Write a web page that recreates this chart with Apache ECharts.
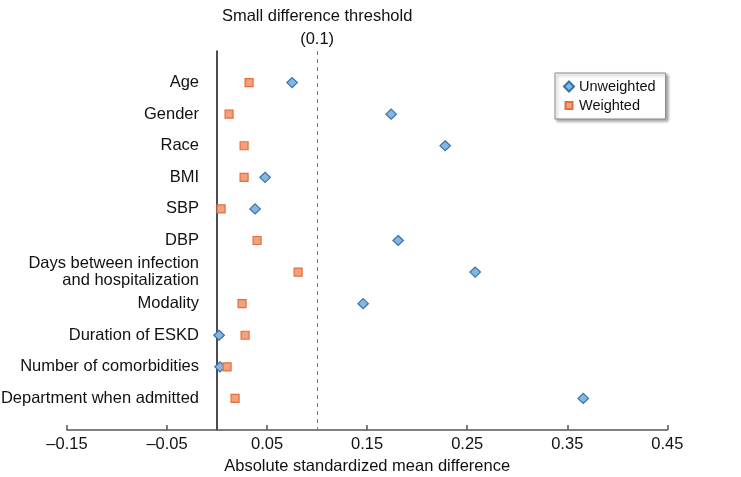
<!DOCTYPE html>
<html>
<head>
<meta charset="utf-8">
<script src="https://cdn.jsdelivr.net/npm/echarts@6/dist/echarts.min.js"></script>
<style>
html,body{margin:0;padding:0;background:#fff;}
#chart{width:741px;height:477px;}
</style>
</head>
<body>
<div id="chart"></div>
<script>
const categories = ['Age','Gender','Race','BMI','SBP','DBP','Days between infection\nand hospitalization','Modality','Duration of ESKD','Number of comorbidities','Department when admitted'];
const unweighted = [0.075, 0.174, 0.228, 0.048, 0.038, 0.181, 0.258, 0.146, 0.002, 0.003, 0.366];
const weighted = [0.032, 0.012, 0.027, 0.027, 0.004, 0.040, 0.081, 0.025, 0.028, 0.010, 0.018];
const xTicks = {min: -0.15, max: 0.45, interval: 0.1};
const threshold = 0.1;

const FONT = 'Liberation Sans, Arial, sans-serif';
const chart = echarts.init(document.getElementById('chart'));
const toPts = arr => arr.map((v, i) => [v, i + 1]);

chart.setOption({
  animation: false,
  backgroundColor: '#fff',
  textStyle: {fontFamily: FONT},
  grid: {left: 67, right: 73.7, top: 51, bottom: 47, containLabel: false, outerBoundsMode: 'none'},
  legend: {
    orient: 'vertical', left: 555, top: 73,
    padding: [6, 10, 6, 8], itemGap: 4,
    itemWidth: 10, itemHeight: 10,
    backgroundColor: '#fff', borderColor: '#8a8a8a', borderWidth: 1,
    shadowColor: 'rgba(0,0,0,0.35)', shadowBlur: 3, shadowOffsetX: 2, shadowOffsetY: 2,
    textStyle: {fontFamily: FONT, fontSize: 14.5, color: '#111'},
    data: [
      {name: 'Unweighted', icon: 'diamond'},
      {name: 'Weighted', icon: 'path://M0,0M10,10M1.5,1.5h7v7h-7z'}
    ]
  },
  xAxis: {
    type: 'value', min: xTicks.min, max: xTicks.max, interval: xTicks.interval,
    name: 'Absolute standardized mean difference', nameLocation: 'middle', nameGap: 28,
    nameTextStyle: {fontFamily: FONT, fontSize: 16.5, color: '#111'},
    axisLine: {onZero: false, lineStyle: {color: '#555', width: 1.5}},
    axisTick: {show: true, inside: true, length: 5, lineStyle: {color: '#555', width: 1.5}},
    axisLabel: {margin: 6, fontFamily: FONT, fontSize: 16.5, color: '#111',
      formatter: v => { const r = Math.round(v * 100) / 100; return (r < 0 ? '\u2013' : '') + Math.abs(r).toFixed(2); }},
    splitLine: {show: false}
  },
  yAxis: {
    type: 'value', inverse: true, min: 0, max: 12, interval: 1,
    axisLine: {show: true, onZero: true, lineStyle: {color: '#111', width: 1.5}},
    axisTick: {show: false},
    splitLine: {show: false},
    axisLabel: {margin: -132, fontFamily: FONT, fontSize: 16.5, color: '#111', lineHeight: 17.5, align: 'right',
      formatter: v => (v >= 1 && v <= categories.length) ? categories[v - 1] : ''}
  },
  series: [
    {
      name: 'Unweighted', type: 'scatter', symbol: 'diamond', symbolSize: [10.5, 10],
      itemStyle: {color: '#86b6e0', borderColor: '#3672aa', borderWidth: 1.2, opacity: 1},
      data: toPts(unweighted), z: 3,
      markLine: {
        silent: true, symbol: 'none',
        lineStyle: {type: [4, 4], color: '#777', width: 1},
        label: {show: true, position: 'start', distance: 0, formatter: 'Small difference threshold\n(0.1)',
          fontFamily: FONT, fontSize: 16.5, color: '#111', lineHeight: 23, align: 'center'},
        data: [{xAxis: threshold}]
      }
    },
    {
      name: 'Weighted', type: 'scatter', symbol: 'rect', symbolSize: 8,
      itemStyle: {color: '#f4a07d', borderColor: '#e26f3d', borderWidth: 1.2, opacity: 1},
      data: toPts(weighted), z: 4
    }
  ]
});
</script>
</body>
</html>
